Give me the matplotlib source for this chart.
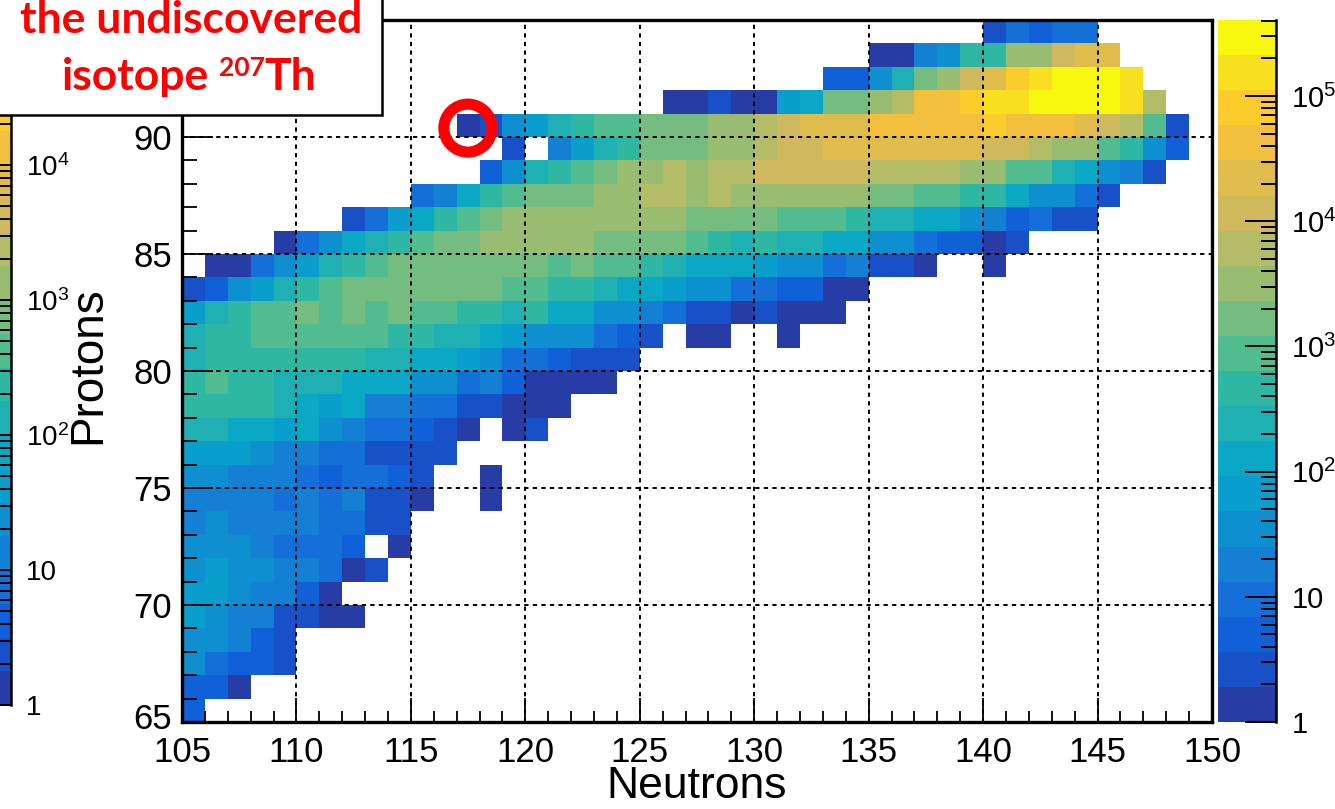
import numpy as np
import matplotlib.pyplot as plt
from matplotlib.colors import ListedColormap, BoundaryNorm
from matplotlib.patches import Ellipse, Rectangle
from matplotlib.ticker import FixedLocator, NullFormatter
from matplotlib.transforms import ScaledTranslation

plt.rcParams['font.family'] = ['Liberation Sans', 'DejaVu Sans']
plt.rcParams['mathtext.default'] = 'regular'

# yield per (N, Z) cell; each row starts at its first neutron number, None = empty bin
protons = list(range(65, 95))
row_first_n = [105, 105, 105, 105, 105, 105, 105, 105, 105, 105,
               105, 105, 105, 105, 105, 105, 105, 105, 105, 106,
               109, 112, 115, 118, 119, 117, 126, 133, 135, 140]
row_counts = [
    [5],
    [5, 5, 1],
    [35, 10, 5, 5, 3],
    [35, 35, 18, 5, 3],
    [66, 35, 18, 18, 3, 3, 1, 1],
    [66, 66, 35, 18, 18, 5, 1],
    [35, 66, 35, 35, 18, 18, 10, 1, 3],
    [35, 35, 35, 18, 10, 10, 10, 5, None, 1],
    [18, 35, 18, 18, 18, 18, 10, 10, 3, 3],
    [18, 18, 18, 18, 10, 18, 10, 18, 3, 3, 1, None, None, 1],
    [35, 35, 18, 18, 18, 10, 5, 10, 10, 5, 3, None, None, 1],
    [66, 66, 66, 35, 18, 18, 10, 10, 3, 3, 3, 3],
    [240, 240, 127, 127, 66, 127, 35, 18, 10, 10, 5, 3, 1, None, 1, 3],
    [460, 460, 460, 460, 240, 127, 66, 127, 18, 18, 10, 10, 3, 3, 1, 1, 1],
    [460, 880, 460, 460, 240, 240, 240, 127, 127, 127, 35, 35, 10, 18, 5, 1, 1, 1, 1],
    [240, 460, 460, 460, 460, 460, 460, 460, 240, 240, 127, 127, 66, 35, 10, 10, 5, 3, 3, 3],
    [240, 460, 460, 880, 880, 880, 880, 880, 880, 460, 460, 240, 240, 127, 66, 35, 35, 35,
     10, 5, 3, None, 1, 1, None, None, 1],
    [66, 240, 460, 880, 880, 1700, 880, 1700, 880, 1700, 880, 880, 460, 460, 240, 460, 127,
     127, 35, 35, 18, 10, 3, 3, 1, 3, 1, 1, 1],
    [3, 5, 35, 66, 240, 460, 880, 1700, 1700, 1700, 1700, 1700, 1700, 1700, 880, 880, 460,
     460, 240, 127, 127, 66, 35, 35, 10, 10, 5, 5, 1, 1],
    [1, 1, 10, 35, 66, 240, 460, 880, 1700, 1700, 1700, 1700, 1700, 1700, 1700, 880, 1700,
     880, 880, 460, 240, 127, 127, 127, 66, 35, 35, 10, 18, 3, 3, 1, None, None, 1],
    [1, 10, 35, 127, 240, 460, 880, 1700, 1700, 3200, 3200, 3200, 3200, 3200, 1700, 1700,
     1700, 1700, 880, 460, 240, 460, 240, 240, 127, 127, 35, 35, 10, 5, 5, 1, 3],
    [3, 10, 66, 127, 460, 880, 1700, 3200, 3200, 3200, 3200, 3200, 3200, 3200, 3200, 1700,
     1700, 1700, 1700, 880, 880, 880, 460, 240, 240, 127, 127, 35, 18, 5, 10, 3, 3],
    [10, 18, 127, 460, 880, 1700, 1700, 1700, 3200, 3200, 6100, 6100, 3200, 6100, 3200, 3200,
     3200, 3200, 3200, 3200, 1700, 1700, 880, 880, 460, 460, 127, 35, 35, 10, 3],
    [5, 35, 240, 460, 880, 1700, 3200, 3200, 6100, 3200, 6100, 6100, 11600, 11600, 11600,
     11600, 11600, 6100, 6100, 6100, 6100, 3200, 3200, 880, 880, 240, 127, 35, 18, 3],
    [3, None, 18, 66, 240, 460, 1700, 1700, 1700, 3200, 3200, 6100, 11600, 11600, 22000,
     22000, 22000, 22000, 22000, 22000, 22000, 11600, 11600, 6100, 3200, 3200, 880, 460, 35, 5],
    [1, 3, 35, 66, 240, 460, 880, 880, 1700, 1700, 1700, 3200, 3200, 6100, 11600, 22000,
     22000, 22000, 42000, 42000, 42000, 42000, 42000, 81000, 42000, 42000, 42000, 22000,
     11600, 6100, 880, 3],
    [1, 1, 3, 1, 1, 66, 127, 1700, 1700, 3200, 6100, 42000, 42000, 81000, 154000, 154000,
     294000, 294000, 294000, 294000, 154000, 6100],
    [5, 5, 35, 240, 1700, 3200, 11600, 22000, 81000, 154000, 294000, 294000, 294000, 154000],
    [1, 1, 18, 35, 460, 460, 3200, 3200, 11600, 22000, 22000],
    [3, 10, 5, 10, 10],
]

z_max = 4.05e5
n_levels = 20
# kBird-like palette, one colour per contour band
band_colors = ['#283ca6', '#1850c8', '#1060d8', '#1470d8', '#1480d4', '#0e90d0',
               '#0a9ecc', '#0aa8c4', '#1eb0b2', '#2eb8a4', '#50bc90', '#74bc80',
               '#98bc70', '#b4bc68', '#d0b85c', '#e0bc4c', '#f2c03c', '#fbcc2c',
               '#f8e020', '#f8f80e']
cmap = ListedColormap(band_colors)
levels = np.logspace(0, np.log10(z_max), n_levels + 1)
norm = BoundaryNorm(levels, n_levels)

n_edges = np.arange(105, 151)
z_edges = np.arange(65, 96)
grid = np.full((len(z_edges) - 1, len(n_edges) - 1), np.nan)
for z, n0, row in zip(protons, row_first_n, row_counts):
    for k, c in enumerate(row):
        if c is not None:
            grid[z - 65, n0 - 105 + k] = c
counts = np.ma.masked_invalid(grid)

W, H = 1335, 809
fig = plt.figure(figsize=(W / 100, H / 100), dpi=100)


def fx(px):
    return px / W


def fy(py):
    return 1 - py / H


def log_minor(lo, hi):
    out = []
    for d in range(lo, hi):
        out += [m * 10.0 ** d for m in range(2, 10)]
    return out


# main histogram
ax = fig.add_axes([fx(182), fy(722), fx(1212) - fx(182), fy(20) - fy(722)])
ax.pcolormesh(n_edges, z_edges, counts, cmap=cmap, norm=norm)
ax.set_xlim(105, 150)
ax.set_ylim(65, 95)
ax.set_xticks(range(105, 151, 5))
ax.set_xticks(range(105, 151), minor=True)
ax.set_yticks(range(65, 95, 5))
ax.set_yticks(range(65, 96), minor=True)
ax.grid(True, which='major', color='black', linestyle=(0, (2.2, 2.2)), linewidth=1.4)
ax.set_axisbelow(False)
ax.tick_params(axis='x', which='major', direction='in', length=17, width=1.3,
               labelsize=25, pad=10)
ax.tick_params(axis='x', which='minor', direction='in', length=8, width=1.3)
ax.tick_params(axis='y', which='major', direction='in', length=22, width=1.3,
               labelsize=25, pad=7)
ax.tick_params(axis='y', which='minor', direction='in', length=11, width=1.3)
for s in ax.spines.values():
    s.set_linewidth(2.4)

# the bottom "65" sits just above the corner "105"
fig.canvas.draw()
lab65 = ax.get_yticklabels()[0]
lab65.set_transform(lab65.get_transform() + ScaledTranslation(0, 4 / 72, fig.dpi_scale_trans))

fig.text(fx(697), fy(787), 'Neutrons', fontsize=32, ha='center', va='center')
fig.text(fx(88), fy(365), 'Protons', fontsize=33, ha='center', va='center', rotation=90)

# red ring around the 207Th bin
ring = Ellipse((117.49, 90.38), 2.10, 2.05, fill=False, edgecolor='#ff0000',
               linewidth=8, clip_on=False, zorder=6)
ax.add_patch(ring)

# colour scale
cax = fig.add_axes([fx(1218), fy(722), fx(1276) - fx(1218), fy(20) - fy(722)])
cax.set_yscale('log')
for i in range(n_levels):
    cax.axhspan(levels[i], levels[i + 1], color=band_colors[i], lw=0)
cax.set_ylim(1, z_max)
cax.set_xlim(0, 1)
cax.set_xticks([])
cax.yaxis.tick_right()
cax.yaxis.set_major_locator(FixedLocator([1, 10, 1e2, 1e3, 1e4, 1e5]))
cax.yaxis.set_minor_locator(FixedLocator(log_minor(0, 6)))
cax.yaxis.set_minor_formatter(NullFormatter())
cax.set_yticklabels(['1', '10', '$10^{2}$', '$10^{3}$', '$10^{4}$', '$10^{5}$'])
cax.tick_params(axis='y', which='major', direction='in', length=22, width=1.4,
                labelsize=21, pad=11)
cax.tick_params(axis='y', which='minor', direction='in', length=11, width=1.4)
for side in ['left', 'top', 'bottom']:
    cax.spines[side].set_visible(False)
cax.spines['right'].set_linewidth(1.8)

# colour scale of the neighbouring panel, cut at the figure edge
l_levels = np.logspace(0, 5.0, n_levels + 1)
lax = fig.add_axes([fx(-60), fy(705), fx(11) - fx(-60), fy(115) - fy(705)])
lax.set_yscale('log')
for i in range(n_levels):
    lax.axhspan(l_levels[i], l_levels[i + 1], color=band_colors[i], lw=0)
lax.set_ylim(1, 10 ** ((705 - 115) / 135))
lax.set_xlim(0, 1)
lax.set_xticks([])
lax.yaxis.tick_right()
lax.yaxis.set_major_locator(FixedLocator([1, 10, 1e2, 1e3, 1e4]))
lax.yaxis.set_minor_locator(FixedLocator(log_minor(0, 5)))
lax.yaxis.set_minor_formatter(NullFormatter())
lax.set_yticklabels(['1', '10', '$10^{2}$', '$10^{3}$', '$10^{4}$'])
lax.tick_params(axis='y', which='major', direction='in', length=22, width=1.4,
                labelsize=20, pad=11)
lax.tick_params(axis='y', which='minor', direction='in', length=11, width=1.4)
for side in ['left', 'top', 'bottom']:
    lax.spines[side].set_visible(False)
lax.spines['right'].set_linewidth(1.8)

# annotation box
box = Rectangle((fx(-20), fy(115)), fx(382) - fx(-20), fy(-20) - fy(115),
                transform=fig.transFigure, facecolor='white', edgecolor='black',
                linewidth=1.8, zorder=10)
fig.add_artist(box)
kw = dict(color='#ff0000', fontweight='bold', family=['Lato', 'DejaVu Sans'],
          zorder=11)
fig.text(fx(191), fy(33), 'the undiscovered', fontsize=32, ha='center',
         va='baseline', **kw)

r = fig.canvas.get_renderer()
t1 = fig.text(0, fy(90), 'isotope', fontsize=32, ha='left', va='baseline', **kw)
t2 = fig.text(0, fy(76), '207', fontsize=19, ha='left', va='baseline', **kw)
t3 = fig.text(0, fy(90), 'Th', fontsize=32, ha='left', va='baseline', **kw)
w1 = t1.get_window_extent(r).width
w2 = t2.get_window_extent(r).width
w3 = t3.get_window_extent(r).width
gap = 10
x0 = 189 - (w1 + gap + w2 + w3) / 2
t1.set_x(fx(x0))
t2.set_x(fx(x0 + w1 + gap))
t3.set_x(fx(x0 + w1 + gap + w2))

fig.savefig('out.png', dpi=100)
